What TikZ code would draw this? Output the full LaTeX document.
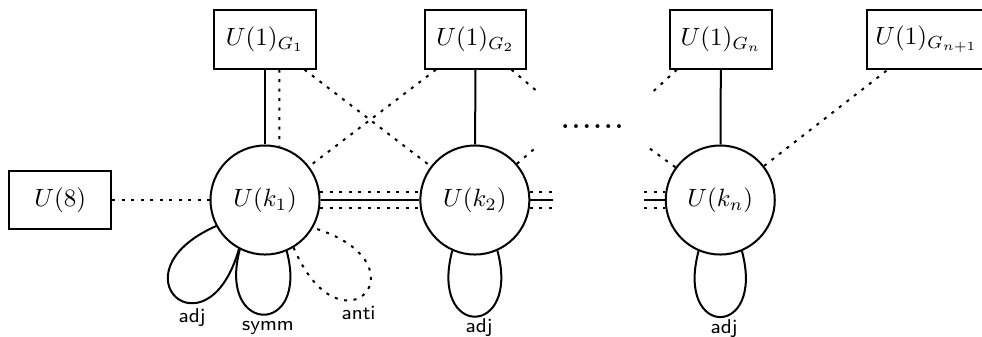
\documentclass[tikz,border=0pt]{standalone}
\usepackage{amsmath,amsfonts,amssymb}
\usepackage{tikz}

\begin{document}
\begin{tikzpicture}[auto,
		gauge_style/.style={circle,draw=black,thick,fill=white,minimum size=1.533cm,inner sep=0pt},
		flavor_style/.style={rectangle,draw=black,thick,fill=white,minimum width=1.43cm,minimum height=0.82cm},
		edge_style/.style={draw=black,thick},
		dot_style/.style={draw=black,thick,dash pattern=on 1.2pt off 2.6pt},
		rep_style/.style={font=\footnotesize\sffamily,inner sep=1pt}]

		\useasboundingbox (-3.726,-1.912) rectangle (10.08,2.812);

		\node[gauge_style] (k1) at (0,0)  {$U(k_1)$};
		\node[gauge_style] (k2) at (2.95,0)  {$U(k_2)$};
		\node[gauge_style] (kn) at (6.40,0)  {$U(k_n)$};
		\node[flavor_style] (f8) at (-2.88,0)  {$U(8)$};
		\node[flavor_style] (g1) at (0,2.257)  {$U(1)_{G_1}$};
		\node[flavor_style] (g2) at (2.96,2.257)  {$U(1)_{G_2}$};
		\node[flavor_style] (gn) at (6.41,2.257)  {$U(1)_{G_n}$};
		\node[flavor_style] (gm) at (9.30,2.257)  {$U(1)_{G_{n+1}}$};
		\node[inner sep=0pt,anchor=base] (dd) at (4.60,1.007)  {\bfseries.\kern1.1pt.\kern1.1pt.\kern1.1pt.\kern1.1pt.\kern1.1pt.};

		% loose ends of the cut lines
		\coordinate (g2r) at (3.820,1.533);
		\coordinate (k2r) at (3.820,0.749);
		\coordinate (gnl) at (5.403,1.476);
		\coordinate (knl) at (5.399,0.731);
		\coordinate (k2s) at (4.049,0);
		\coordinate (kns) at (5.329,0);

		\draw[dot_style]  (f8) edge (k1);
		\draw[edge_style]  (g1) edge (k1);
		\draw[dot_style]  ([xshift=2mm]g1.south) edge (k1.75);
		\draw[dot_style]  (g1) edge (k2);
		\draw[dot_style]  (g2) edge (k1);
		\draw[edge_style]  (g2) edge (k2);
		\draw[edge_style]  (gn) edge (kn);
		\draw[dot_style]  (kn) edge (gm);

		\draw[dot_style]  (g2) edge (g2r);
		\draw[dot_style]  (k2) edge (k2r);
		\draw[dot_style]  ([xshift=-6.2mm]gn.south) edge (gnl);
		\draw[dot_style]  (kn) edge (knl);

		\draw[edge_style]  (k1) edge (k2);
		\draw[dot_style]  (k1.8) edge (k2.172);
		\draw[dot_style]  (k1.-8) edge (k2.-172);
		\draw[edge_style]  (k2) edge (k2s);
		\draw[dot_style]  (k2.8) edge (k2.8 -| k2s);
		\draw[dot_style]  (k2.-8) edge (k2.-8 -| k2s);
		\draw[edge_style]  (kns) edge (kn);
		\draw[dot_style]  (kns |- kn.172) edge (kn.172);
		\draw[dot_style]  (kns |- kn.-172) edge (kn.-172);

		% matter loops
		\draw[edge_style]  (k1.-152) .. controls +(-156:1.63) and +(-106:1.63) .. (k1.-118);
		\draw[edge_style]  (k1.-117) .. controls +(-105:1.25) and +(-75:1.25) .. (k1.-67);
		\draw[dot_style]  (k1.-59) .. controls +(-67:1.72) and +(-17:1.72) .. (k1.-30);
		\draw[edge_style]  (k2.-114) .. controls +(-105:1.28) and +(-75:1.28) .. (k2.-66);
		\draw[edge_style]  (kn.-113) .. controls +(-105:1.28) and +(-75:1.28) .. (kn.-67);

		\node[rep_style] (r1) at (-1.026,-1.659)  {adj};
		\node[rep_style] (r2) at (0.042,-1.800)  {symm};
		\node[rep_style] (r3) at (1.315,-1.582)  {anti};
		\node[rep_style] (r4) at (3.009,-1.800)  {adj};
		\node[rep_style] (r5) at (6.454,-1.807)  {adj};
		\end{tikzpicture}
\end{document}
